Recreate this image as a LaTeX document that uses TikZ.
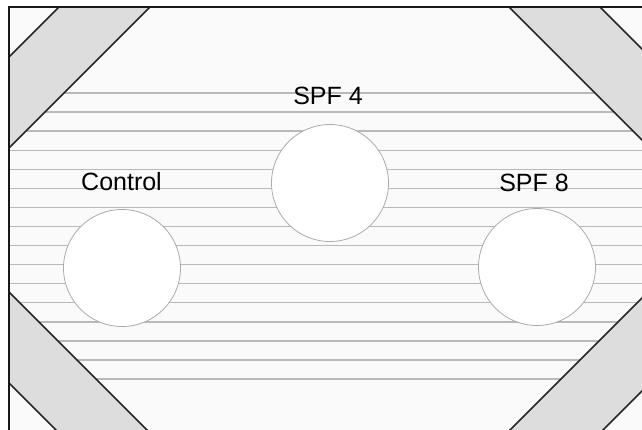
\documentclass[tikz,border=0pt]{standalone}
\usepackage{fontspec}
\setmainfont{Liberation Sans}
\definecolor{bg}{HTML}{FAFAFA}
\definecolor{band}{HTML}{DDDDDD}
\definecolor{rule}{HTML}{B9B9B9}
\definecolor{rim}{HTML}{ABABAB}
\begin{document}
\begin{tikzpicture}[
  x=1pt, y=-1pt,
  bd/.style={fill=band, draw=black!85, line width=1.7pt, line join=round},
  hl/.style={draw=rule, line width=1.4pt},
  dish/.style={circle, fill=white, draw=rim, line width=0.8pt, minimum size=117pt, inner sep=0pt},
  lbl/.style={anchor=base, inner sep=0pt, font=\fontsize{25}{30}\selectfont}
]
\useasboundingbox (0,0) rectangle (642,429);
\clip (0,0) rectangle (642,429);

% tray
\fill[bg] (9,7) rectangle (650,433);
\foreach \i in {0,...,15}
  \draw[hl] (9,93+19.07*\i) -- (650,93+19.07*\i);

% corner bands
\draw[bd] (9,57) -- (59,7) -- (150,7) -- (9,148) -- cycle;
\draw[bd] (509,7) -- (600,7) -- (650,57) -- (650,148) -- cycle;
\draw[bd] (9,292) -- (9,383) -- (59,433) -- (150,433) -- cycle;
\draw[bd] (650,290) -- (650,383) -- (600,433) -- (507,433) -- cycle;

% wells
\node[dish] (ctrl) at (122,268) {};
\node[dish] (spf4) at (330,183) {};
\node[dish] (spf8) at (537,267) {};

\node[lbl] (lctrl) at (121.5,190) {Control};
\node[lbl] (lspf4) at (328,104) {SPF 4};
\node[lbl] (lspf8) at (534,191) {SPF 8};

% frame
\draw[black!90, line width=2pt] (9,433) -- (9,7) -- (650,7);
\end{tikzpicture}
\end{document}
